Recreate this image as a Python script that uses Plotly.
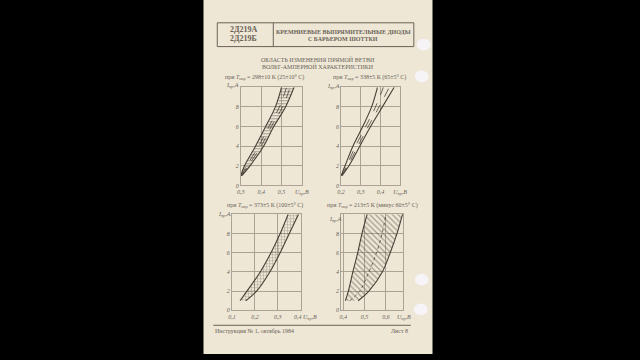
import plotly.graph_objects as go

# ---------------- data (read from the scanned sheet) ----------------
I_LEVELS = [1, 2, 4, 6, 8, 10]          # forward current, A

# panel 1: T = 298 K
P1_LEFT = [0.300, 0.318, 0.372, 0.422, 0.470, 0.500]
P1_IN_A = [0.302, 0.328, 0.388, 0.438, 0.490, 0.525]
P1_IN_B = [0.303, 0.336, 0.400, 0.450, 0.505, 0.543]
P1_RIGHT = [0.305, 0.345, 0.412, 0.462, 0.520, 0.562]
# panel 2: T = 338 K
P2_LEFT = [0.200, 0.220, 0.260, 0.310, 0.355, 0.385]
P2_IN_A = [0.202, 0.228, 0.273, 0.325, 0.375, 0.415]
P2_IN_B = [0.203, 0.234, 0.285, 0.338, 0.393, 0.445]
P2_RIGHT = [0.205, 0.240, 0.295, 0.350, 0.410, 0.470]
# panel 3: T = 373 K
P3_LEFT = [0.135, 0.165, 0.223, 0.270, 0.310, 0.345]
P3_RIGHT = [0.160, 0.207, 0.265, 0.310, 0.350, 0.390]
# panel 4: T = 213 K
P4_LEFT = [0.410, 0.424, 0.445, 0.468, 0.488, 0.512]
P4_MID = [0.430, 0.477, 0.520, 0.556, 0.582, 0.600]
P4_RIGHT = [0.470, 0.520, 0.583, 0.620, 0.652, 0.678]

Y_TICKS = [0, 2, 4, 6, 8]
P1_XTICKS = [0.3, 0.4, 0.5, 0.6]
P1_XTEXT = ["0,3", "0,4", "0,5", "U<sub>пр</sub>,В"]
P2_XTICKS = [0.2, 0.3, 0.4, 0.5]
P2_XTEXT = ["0,2", "0,3", "0,4", "U<sub>пр</sub>,В"]
P3_XTICKS = [0.1, 0.2, 0.3]
P3_XTEXT = ["0,1", "0,2", "0,3"]
P4_XTICKS = [0.4, 0.5, 0.6]
P4_XTEXT = ["0,4", "0,5", "0,6"]

TITLES = ["при <i>T</i><sub>окр</sub> = 298±10 К (25±10° С)",
          "при <i>T</i><sub>окр</sub> = 338±5 К (65±5° С)",
          "при <i>T</i><sub>окр</sub> = 373±5 К (100±5° С)",
          "при <i>T</i><sub>окр</sub> = 213±5 К (минус 60±5° С)"]

# ---------------- style ----------------
W, H = 640, 360
PAGE = "#eee7d6"
INK = "#6a6256"
GRID = "#aca394"
CURVE = "#463f36"
HATCH = "#5a5247"
FONT = "Liberation Serif"


def px(x):
    return x / W


def py(y):
    return 1 - y / H


fig = go.Figure()

panels = [
    ("", [0.3, 0.6], (241, 303), (88, 187), P1_XTICKS, P1_XTEXT),
    ("2", [0.2, 0.5], (343, 403), (88, 187), P2_XTICKS, P2_XTEXT),
    ("3", [0.1, 0.4], (232, 302), (216, 313), P3_XTICKS, P3_XTEXT),
    ("4", [0.39, 0.68], (343, 406), (216, 313), P4_XTICKS, P4_XTEXT),
]

layout_axes = {}
for name, xr, (x0, x1), (yt, yb), tv, tt in panels:
    layout_axes["xaxis" + name] = dict(
        domain=[px(x0), px(x1)], range=xr, anchor="y" + name,
        tickvals=tv, ticktext=tt, showgrid=True, gridcolor=GRID, gridwidth=0.8,
        showline=True, linecolor=GRID, linewidth=1, mirror=True,
        zeroline=False, ticks="",
        tickfont=dict(size=6, color=INK, family=FONT, style="italic"),
        fixedrange=True)
    layout_axes["yaxis" + name] = dict(
        domain=[py(yb), py(yt)], range=[0, 10], anchor="x" + name,
        tickvals=Y_TICKS, ticktext=[str(v) for v in Y_TICKS],
        showgrid=True, gridcolor=GRID, gridwidth=0.8,
        showline=True, linecolor=GRID, linewidth=1, mirror=True,
        zeroline=False, ticks="",
        tickfont=dict(size=6, color=INK, family=FONT, style="italic"),
        fixedrange=True)


def band(left, right, ax, pattern, size, solidity):
    fig.add_trace(go.Scatter(
        x=left, y=I_LEVELS, xaxis="x" + ax, yaxis="y" + ax, mode="lines",
        line=dict(color=CURVE, width=1.1, shape="spline"),
        hoverinfo="skip", showlegend=False))
    fill = dict(fill="tonextx", fillcolor="rgba(0,0,0,0)")
    if pattern:
        fill["fillpattern"] = dict(shape=pattern, size=size, solidity=solidity,
                                   fgcolor=HATCH, bgcolor="rgba(0,0,0,0)")
    fig.add_trace(go.Scatter(
        x=right, y=I_LEVELS, xaxis="x" + ax, yaxis="y" + ax, mode="lines",
        line=dict(color=CURVE, width=1.1, shape="spline"),
        hoverinfo="skip", showlegend=False, **fill))


def inner(xv, ax, dash):
    fig.add_trace(go.Scatter(
        x=xv, y=I_LEVELS, xaxis="x" + ax, yaxis="y" + ax, mode="lines",
        line=dict(color=CURVE, width=0.8, dash=dash, shape="spline"),
        hoverinfo="skip", showlegend=False))


band(P1_LEFT, P1_RIGHT, "", "-", 3, 0.35)
inner(P1_IN_A, "", "dash")
inner(P1_IN_B, "", "dash")

band(P2_LEFT, P2_RIGHT, "2", "", 4, 0.2)
inner(P2_IN_A, "2", "dash")
inner(P2_IN_B, "2", "dash")

band(P3_LEFT, P3_RIGHT, "3", "+", 3, 0.3)

band(P4_LEFT, P4_RIGHT, "4", "\\", 4, 0.3)
inner(P4_MID, "4", "dot")

# ---------------- page, header, text ----------------
shapes = [
    dict(type="rect", xref="paper", yref="paper", x0=px(203), x1=px(436),
         y0=py(357), y1=py(0), fillcolor=PAGE, line=dict(width=0), layer="below"),
    dict(type="rect", xref="paper", yref="paper", x0=px(217), x1=px(417),
         y0=py(47), y1=py(23), fillcolor="rgba(0,0,0,0)",
         line=dict(color=INK, width=1), layer="below"),
    dict(type="line", xref="paper", yref="paper", x0=px(274), x1=px(274),
         y0=py(47), y1=py(23), line=dict(color=INK, width=1), layer="below"),
    dict(type="line", xref="paper", yref="paper", x0=px(213), x1=px(414),
         y0=py(328), y1=py(328), line=dict(color=INK, width=1), layer="below"),
]
# light reflections of the punch holes on the right edge
for cx, cy in [(427, 45), (425, 77), (425, 282), (424, 312)]:
    shapes.append(dict(type="circle", xref="paper", yref="paper",
                       x0=px(cx - 7), x1=px(cx + 7), y0=py(cy + 6), y1=py(cy - 6),
                       fillcolor="rgba(248,248,255,0.8)", line=dict(width=0),
                       layer="above"))

ann = []


def text(x, y, s, size=6, anchor="center", style="normal"):
    ann.append(dict(xref="paper", yref="paper", x=px(x), y=py(y), text=s,
                    showarrow=False, xanchor=anchor, yanchor="middle",
                    font=dict(size=size, color=INK, family=FONT, style=style)))


text(244, 30, "<b>2Д219А</b>", 8)
text(244, 39, "<b>2Д219Б</b>", 8)
text(345, 32, "<b>КРЕМНИЕВЫЕ ВЫПРЯМИТЕЛЬНЫЕ ДИОДЫ</b>", 6)
text(345, 39, "<b>С БАРЬЕРОМ ШОТТКИ</b>", 6)
text(319, 60, "ОБЛАСТЬ ИЗМЕНЕНИЯ ПРЯМОЙ ВЕТВИ", 6)
text(319, 67, "ВОЛЬТ-АМПЕРНОЙ ХАРАКТЕРИСТИКИ", 6)
text(265, 78, TITLES[0], 6)
text(372, 78, TITLES[1], 6)
text(266, 207, TITLES[2], 6)
text(375, 207, TITLES[3], 6)
I_LAB = "I<sub>пр</sub>,А"
text(232, 86, I_LAB, 6, style="italic")
text(335, 87, I_LAB, 6, style="italic")
text(224, 216, I_LAB, 6, style="italic")
text(337, 221, I_LAB, 6, style="italic")
text(293, 320, "0,4 U<sub>пр</sub>,В", 6, "left", "italic")
text(398, 320, "U<sub>пр</sub>,В", 6, "left", "italic")
text(213, 334, "Инструкция № 1, октябрь 1984", 6, "left")
text(413, 334, "Лист 8", 6, "right")

fig.update_layout(
    width=W, height=H, margin=dict(l=0, r=0, t=0, b=0),
    paper_bgcolor="#000000", plot_bgcolor="rgba(0,0,0,0)",
    shapes=shapes, annotations=ann, showlegend=False,
    font=dict(family=FONT, color=INK), **layout_axes)

fig.write_html("out.html", config={"displayModeBar": False})
